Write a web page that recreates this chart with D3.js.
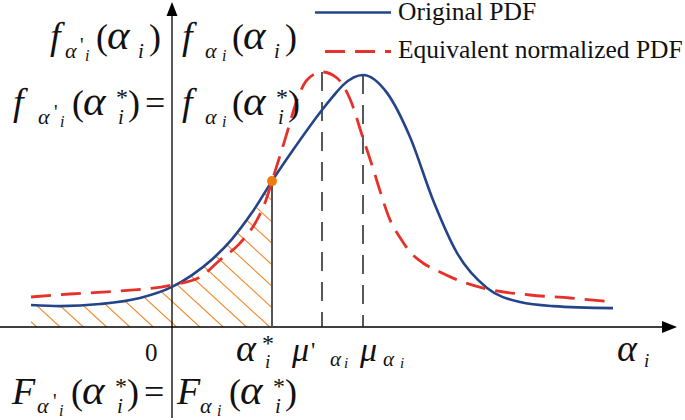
<!DOCTYPE html>
<html>
<head>
<meta charset="utf-8">
<script src="https://cdn.jsdelivr.net/npm/d3@7"></script>
<style>
  html, body { margin: 0; padding: 0; background: #fff; }
</style>
</head>
<body>
<div id="chart"></div>
<script>
const width = 685;
const height = 420;

// Original PDF (x in axis units, y relative to the peak)
const origX = [-2.82, -2.24, -1.44, -0.64, 0, 0.4, 0.8, 1.2, 1.6, 2.0, 2.42, 3.0, 3.22, 3.42, 3.82, 4.3, 4.76, 5.22, 5.7, 6.3, 6.96, 7.62, 8.82];
const origY = [0.087, 0.083, 0.091, 0.115, 0.159, 0.206, 0.268, 0.349, 0.454, 0.579, 0.702, 0.861, 0.915, 0.96, 1.0, 0.929, 0.754, 0.504, 0.294, 0.155, 0.099, 0.083, 0.075];

// Equivalent normalized PDF
const eqvX = [-2.82, -2.04, -1.04, 0, 0.56, 0.96, 1.36, 1.7, 1.88, 2.0, 2.3, 2.5, 2.7, 3.0, 3.3, 3.56, 3.82, 4.02, 4.16, 4.36, 4.56, 4.76, 5.02, 5.36, 5.62, 6.3, 7.16, 7.96, 8.82];
const eqvY = [0.119, 0.131, 0.143, 0.167, 0.198, 0.266, 0.333, 0.425, 0.504, 0.579, 0.77, 0.901, 0.98, 1.012, 0.988, 0.905, 0.75, 0.63, 0.54, 0.425, 0.355, 0.298, 0.254, 0.218, 0.194, 0.151, 0.127, 0.115, 0.099];

const alphaStar = 2.0;
const muEqv = 3.0;
const muOrig = 3.82;

const legendLabels = ['Original PDF', 'Equivalent normalized PDF'];

const blue = '#24448a';
const red = '#e5312a';
const orange = '#ef7d0d';
const serif = '"Liberation Serif","Times New Roman",serif';

const x = d3.scaleLinear().domain([-3.44, 9.86]).range([0, 665]);
const y = d3.scaleLinear().domain([0, 1]).range([327, 75]);

const svg = d3
  .select('#chart')
  .append('svg')
  .attr('width', width)
  .attr('height', height)
  .style('display', 'block')
  .style('background', '#fff');

const orig = origX.map((d, i) => [d, origY[i]]);
const eqv = eqvX.map((d, i) => [d, eqvY[i]]);

const line = d3
  .line()
  .x((d) => x(d[0]))
  .y((d) => y(d[1]))
  .curve(d3.curveMonotoneX);

// value of a series at a given x (linear between read points)
const valueAt = (pts, v) => {
  const i = d3.bisector((d) => d[0]).left(pts, v);
  if (pts[i][0] === v || i === 0) return pts[i][1];
  const a = pts[i - 1], b = pts[i];
  return a[1] + ((v - a[0]) / (b[0] - a[0])) * (b[1] - a[1]);
};

// hatched area under the original PDF up to alpha*
const areaPts = orig.filter((d) => d[0] <= alphaStar);
const area = d3
  .area()
  .x((d) => x(d[0]))
  .y0(y(0))
  .y1((d) => y(d[1]))
  .curve(d3.curveMonotoneX);

svg
  .append('clipPath')
  .attr('id', 'hatchClip')
  .append('path')
  .attr('d', area(areaPts));

const hatch = svg.append('g').attr('clip-path', 'url(#hatchClip)');
const step = 23.3;
const slope = 0.92;
for (let hx = x(origX[0]) + 29 - step * 2; hx < x(alphaStar) + 300; hx += step) {
  hatch
    .append('line')
    .attr('x1', hx)
    .attr('y1', y(0))
    .attr('x2', hx - 300)
    .attr('y2', y(0) - 300 * slope)
    .attr('stroke', '#f08a2a')
    .attr('stroke-width', 1.1);
}

// axes
const axisG = svg.append('g');
axisG
  .append('line')
  .attr('x1', 0)
  .attr('x2', 664)
  .attr('y1', y(0))
  .attr('y2', y(0))
  .attr('stroke', '#000')
  .attr('stroke-width', 1.3);
axisG
  .append('path')
  .attr('d', `M677,${y(0)}L662,${y(0) - 6}L662,${y(0) + 6}Z`)
  .attr('fill', '#000');
axisG
  .append('line')
  .attr('x1', x(0))
  .attr('x2', x(0))
  .attr('y1', 418)
  .attr('y2', 14)
  .attr('stroke', '#000')
  .attr('stroke-width', 1.3);
axisG
  .append('path')
  .attr('d', `M${x(0)},2L${x(0) - 5.5},16L${x(0) + 5.5},16Z`)
  .attr('fill', '#000');

// mean lines
[
  [muEqv, valueAt(eqv, muEqv)],
  [muOrig, valueAt(orig, muOrig)],
].forEach(([m, v]) => {
  svg
    .append('line')
    .attr('x1', x(m))
    .attr('x2', x(m))
    .attr('y1', y(v))
    .attr('y2', y(0))
    .attr('stroke', '#222')
    .attr('stroke-width', 1.5)
    .attr('stroke-dasharray', '19,11');
});

// alpha* vertical
const starVal = valueAt(orig, alphaStar);
svg
  .append('line')
  .attr('x1', x(alphaStar))
  .attr('x2', x(alphaStar))
  .attr('y1', y(starVal))
  .attr('y2', y(0))
  .attr('stroke', '#555')
  .attr('stroke-width', 2);

// curves
svg
  .append('path')
  .attr('d', line(orig))
  .attr('fill', 'none')
  .attr('stroke', blue)
  .attr('stroke-width', 2.6);

svg
  .append('path')
  .attr('d', line(eqv))
  .attr('fill', 'none')
  .attr('stroke', red)
  .attr('stroke-width', 2.8)
  .attr('stroke-dasharray', '20,10');

svg
  .append('circle')
  .attr('cx', x(alphaStar))
  .attr('cy', y(starVal))
  .attr('r', 5)
  .attr('fill', orange);

// legend
const legend = svg.append('g');
legend
  .append('line')
  .attr('x1', 315)
  .attr('x2', 391)
  .attr('y1', 12.5)
  .attr('y2', 12.5)
  .attr('stroke', blue)
  .attr('stroke-width', 2.6);
legend
  .append('line')
  .attr('x1', 325)
  .attr('x2', 391)
  .attr('y1', 51.5)
  .attr('y2', 51.5)
  .attr('stroke', red)
  .attr('stroke-width', 2.8)
  .attr('stroke-dasharray', '20,10');
legendLabels.forEach((t, i) => {
  legend
    .append('text')
    .attr('x', 398)
    .attr('y', i === 0 ? 20 : 58)
    .attr('font-family', serif)
    .attr('font-size', 25.5)
    .attr('fill', '#111')
    .text(t);
});

// math labels, each glyph placed: [text, size, baseline offset, italic, x offset]
const mathText = (px, py, parts) => {
  const t = svg
    .append('text')
    .attr('y', py)
    .attr('font-family', serif)
    .attr('fill', '#111');
  parts.forEach(([s, size, off, it, dx]) => {
    t.append('tspan')
      .attr('x', px + dx)
      .attr('y', py + off)
      .attr('font-size', size)
      .attr('font-style', it ? 'italic' : 'normal')
      .text(s);
  });
};

const fl = (ch) => [ch, 38, 0, 1, 0];
const subPrime = [['α', 22, 9, 1, 25], ["'", 20, 4, 0, 41], ['i', 16, 12, 1, 47]];
const subPlain = [['α', 22, 9, 1, 23], ['i', 16, 12, 1, 40]];
const argPlain = (o) => [['(', 36, 0, 0, o], ['α', 43, 0, 1, o + 11], ['i', 21, 9, 1, o + 42], [')', 36, 0, 0, o + 53]];
const argStar = (o) => [['(', 36, 0, 0, o], ['α', 43, 0, 1, o + 11], ['*', 24, -10, 0, o + 44], ['i', 21, 9, 1, o + 46], [')', 36, 0, 0, o + 56]];

mathText(50, 49, [fl('f'), ['α', 22, 9, 1, 15], ["'", 20, 3, 0, 30], ['i', 16, 12, 1, 35], ...argPlain(46)]);
mathText(182, 49, [fl('f'), ...subPlain, ...argPlain(50)]);
mathText(13, 115, [fl('f'), ...subPrime, ...argStar(59), ['=', 36, 0, 0, 132]]);
mathText(182, 115, [fl('f'), ...subPlain, ...argStar(50)]);
mathText(12, 404, [fl('F'), ...subPrime, ...argStar(59), ['=', 36, 0, 0, 132]]);
mathText(177, 404, [fl('F'), ...subPlain, ...argStar(52)]);

// x-axis labels
mathText(x(0) - 27, 361, [['0', 25, 0, 0, 0]]);
mathText(x(alphaStar) - 36, 361, [['α', 38, 0, 1, 0], ['*', 24, -10, 0, 26], ['i', 19, 7, 1, 29]]);
mathText(x(muEqv) - 30, 361, [['μ', 34, 0, 1, 0], ["'", 24, -3, 0, 19], ['α', 21, 5, 1, 38], ['i', 15, 7, 1, 52]]);
mathText(x(muOrig) - 3, 361, [['μ', 34, 0, 1, 0], ['α', 21, 5, 1, 23], ['i', 15, 7, 1, 40]]);
mathText(617, 361, [['α', 38, 0, 1, 0], ['i', 19, 6, 1, 27]]);
</script>
</body>
</html>
